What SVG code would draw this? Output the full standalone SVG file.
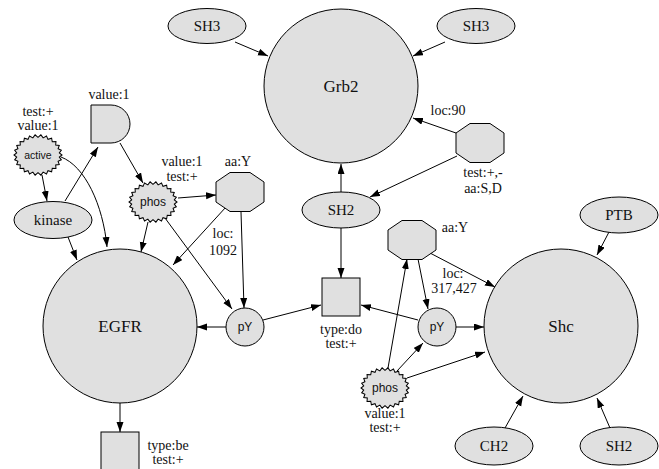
<svg xmlns="http://www.w3.org/2000/svg" xmlns:xlink="http://www.w3.org/1999/xlink" width="659" height="469" viewBox="0 0 659 469">
  <style>
    .shape { fill: #e0e0e0; stroke: #000; stroke-width: 1; }
    .edge { fill: none; stroke: #000; stroke-width: 1; marker-end: url(#arrow); }
    .lbl { font-family: "Liberation Serif", "Times New Roman", serif; font-size: 14px; fill: #111; text-anchor: middle; }
    .big { font-family: "Liberation Serif", "Times New Roman", serif; font-size: 17px; fill: #111; text-anchor: middle; }
    .nodel { font-family: "Liberation Serif", "Times New Roman", serif; font-size: 15px; fill: #111; text-anchor: middle; }
    .sans { font-family: "Liberation Sans", Arial, sans-serif; font-size: 12px; fill: #111; text-anchor: middle; }
    .small { font-family: "Liberation Sans", Arial, sans-serif; font-size: 10.5px; fill: #111; text-anchor: middle; }
  </style>
  <defs>
    <marker id="arrow" markerUnits="userSpaceOnUse" markerWidth="10" markerHeight="8" refX="10" refY="3.5" orient="auto">
      <path d="M0,0 L10,3.5 L0,7 z" fill="#000"/>
    </marker>
    <!-- serrated "starburst" outline used by the modification-state nodes -->
    <polygon id="star" points="24,0 21.34,1.99 23.3,4.55 20.1,5.85 21.25,8.83 17.69,9.37 17.96,12.6 14.26,12.35 13.63,15.64 9.99,14.61 8.51,17.77 5.14,16.02 2.89,18.86 0,16.5 -2.89,18.86 -5.14,16.02 -8.51,17.77 -9.99,14.61 -13.63,15.64 -14.26,12.35 -17.96,12.6 -17.69,9.37 -21.25,8.83 -20.1,5.85 -23.3,4.55 -21.34,1.99 -24,0 -21.34,-1.99 -23.3,-4.55 -20.1,-5.85 -21.25,-8.83 -17.69,-9.37 -17.96,-12.6 -14.26,-12.35 -13.63,-15.64 -9.99,-14.61 -8.51,-17.77 -5.14,-16.02 -2.89,-18.86 0,-16.5 2.89,-18.86 5.14,-16.02 8.51,-17.77 9.99,-14.61 13.63,-15.64 14.26,-12.35 17.96,-12.6 17.69,-9.37 21.25,-8.83 20.1,-5.85 23.3,-4.55 21.34,-1.99"/>
    <polygon id="oct" points="-24,-10 -10,-19.5 10,-19.5 24,-10 24,10 10,19.5 -10,19.5 -24,10"/>
  </defs>

  <g id="connectors">
    <line class="edge" x1="235" y1="42" x2="268" y2="56"/>
    <line class="edge" x1="445" y1="42" x2="413" y2="56"/>
    <line class="edge" x1="456" y1="133" x2="413" y2="118"/>
    <line class="edge" x1="457" y1="156" x2="370" y2="197"/>
    <line class="edge" x1="341" y1="192" x2="341" y2="164"/>
    <line class="edge" x1="341" y1="228" x2="341" y2="278"/>
    <line class="edge" x1="42" y1="175" x2="47" y2="201"/>
    <path class="edge" d="M61,157 C85,166 103,205 107,247"/>
    <line class="edge" x1="65" y1="201" x2="98" y2="147"/>
    <line class="edge" x1="68" y1="237" x2="77" y2="260"/>
    <line class="edge" x1="120" y1="143" x2="143" y2="183"/>
    <line class="edge" x1="178" y1="198" x2="216" y2="195"/>
    <line class="edge" x1="148" y1="222" x2="141" y2="252"/>
    <line class="edge" x1="165" y1="218" x2="232" y2="309"/>
    <line class="edge" x1="226" y1="207" x2="173" y2="265"/>
    <line class="edge" x1="241" y1="212" x2="244" y2="308"/>
    <line class="edge" x1="226" y1="327" x2="197" y2="327"/>
    <line class="edge" x1="263" y1="320" x2="321" y2="305"/>
    <line class="edge" x1="120" y1="403" x2="120" y2="432"/>
    <line class="edge" x1="418" y1="320" x2="361" y2="305"/>
    <line class="edge" x1="418" y1="259" x2="428" y2="309"/>
    <line class="edge" x1="430" y1="253" x2="495" y2="287"/>
    <line class="edge" x1="456" y1="327" x2="484" y2="327"/>
    <line class="edge" x1="407" y1="378" x2="485" y2="352"/>
    <line class="edge" x1="397" y1="371" x2="423" y2="343"/>
    <line class="edge" x1="388" y1="368" x2="407" y2="259"/>
    <line class="edge" x1="609" y1="232" x2="597" y2="255"/>
    <line class="edge" x1="505" y1="428" x2="523" y2="396"/>
    <line class="edge" x1="610" y1="428" x2="597" y2="398"/>
  </g>

  <g id="Grb2">
    <circle class="shape" cx="341" cy="86" r="77"/>
    <text class="big" x="341" y="92">Grb2</text>
  </g>
  <g id="SH3_a">
    <ellipse class="shape" cx="207" cy="26" rx="39" ry="17.5"/>
    <text class="nodel" x="207" y="31">SH3</text>
  </g>
  <g id="SH3_b">
    <ellipse class="shape" cx="476" cy="26" rx="39" ry="17.5"/>
    <text class="nodel" x="476" y="31">SH3</text>
  </g>
  <g id="site_SD">
    <use xlink:href="#oct" class="shape" transform="translate(480,143)"/>
    <text class="lbl" x="448" y="115">loc:90</text>
    <text class="lbl" x="483" y="177">test:+,-</text>
    <text class="lbl" x="483" y="193">aa:S,D</text>
  </g>
  <g id="SH2_grb2">
    <ellipse class="shape" cx="341" cy="210" rx="39" ry="18"/>
    <text class="nodel" x="341" y="215">SH2</text>
  </g>
  <g id="dimer">
    <rect class="shape" x="322" y="278" width="38" height="38"/>
    <text class="lbl" x="341" y="334">type:do</text>
    <text class="lbl" x="341" y="348">test:+</text>
  </g>
  <g id="active">
    <use xlink:href="#star" class="shape" transform="translate(38,155) scale(1,1.07)"/>
    <text class="lbl" x="38" y="116">test:+</text>
    <text class="lbl" x="38" y="130">value:1</text>
    <text class="small" x="38" y="159">active</text>
  </g>
  <g id="kinase">
    <ellipse class="shape" cx="53" cy="220" rx="39" ry="18.5"/>
    <text class="nodel" x="53" y="225">kinase</text>
  </g>
  <g id="ligand">
    <path class="shape" d="M91,105 H111 A19,19 0 0 1 111,143 H91 Z"/>
    <text class="lbl" x="109" y="99">value:1</text>
  </g>
  <g id="phos_egfr">
    <use xlink:href="#star" class="shape" transform="translate(153,202) scale(1,1.07)"/>
    <text class="lbl" x="182" y="166">value:1</text>
    <text class="lbl" x="182" y="181">test:+</text>
    <text class="sans" x="153" y="206">phos</text>
  </g>
  <g id="site_Y1092">
    <use xlink:href="#oct" class="shape" transform="translate(240,192)"/>
    <text class="lbl" x="238" y="166">aa:Y</text>
    <text class="lbl" x="223" y="238">loc:</text>
    <text class="lbl" x="223" y="255">1092</text>
  </g>
  <g id="EGFR">
    <circle class="shape" cx="120" cy="326" r="77"/>
    <text class="big" x="120" y="332">EGFR</text>
  </g>
  <g id="pY_egfr">
    <circle class="shape" cx="245" cy="327" r="19"/>
    <text class="sans" x="245" y="331">pY</text>
  </g>
  <g id="binding">
    <rect class="shape" x="101" y="432" width="38" height="40"/>
    <text class="lbl" x="168" y="450">type:be</text>
    <text class="lbl" x="168" y="464">test:+</text>
  </g>
  <g id="site_Y317">
    <use xlink:href="#oct" class="shape" transform="translate(412,240)"/>
    <text class="lbl" x="455" y="232">aa:Y</text>
    <text class="lbl" x="453" y="278">loc:</text>
    <text class="lbl" x="454" y="293">317,427</text>
  </g>
  <g id="pY_shc">
    <circle class="shape" cx="437" cy="327" r="19"/>
    <text class="sans" x="437" y="331">pY</text>
  </g>
  <g id="phos_shc">
    <use xlink:href="#star" class="shape" transform="translate(385,388) scale(1,1.07)"/>
    <text class="sans" x="385" y="392">phos</text>
    <text class="lbl" x="385" y="418">value:1</text>
    <text class="lbl" x="385" y="432">test:+</text>
  </g>
  <g id="Shc">
    <circle class="shape" cx="561" cy="326" r="77"/>
    <text class="big" x="561" y="332">Shc</text>
  </g>
  <g id="PTB">
    <ellipse class="shape" cx="619" cy="215" rx="39" ry="18"/>
    <text class="nodel" x="619" y="220">PTB</text>
  </g>
  <g id="CH2">
    <ellipse class="shape" cx="494" cy="446" rx="39" ry="19"/>
    <text class="nodel" x="494" y="451">CH2</text>
  </g>
  <g id="SH2_shc">
    <ellipse class="shape" cx="619" cy="446" rx="39" ry="19"/>
    <text class="nodel" x="619" y="451">SH2</text>
  </g>
</svg>
